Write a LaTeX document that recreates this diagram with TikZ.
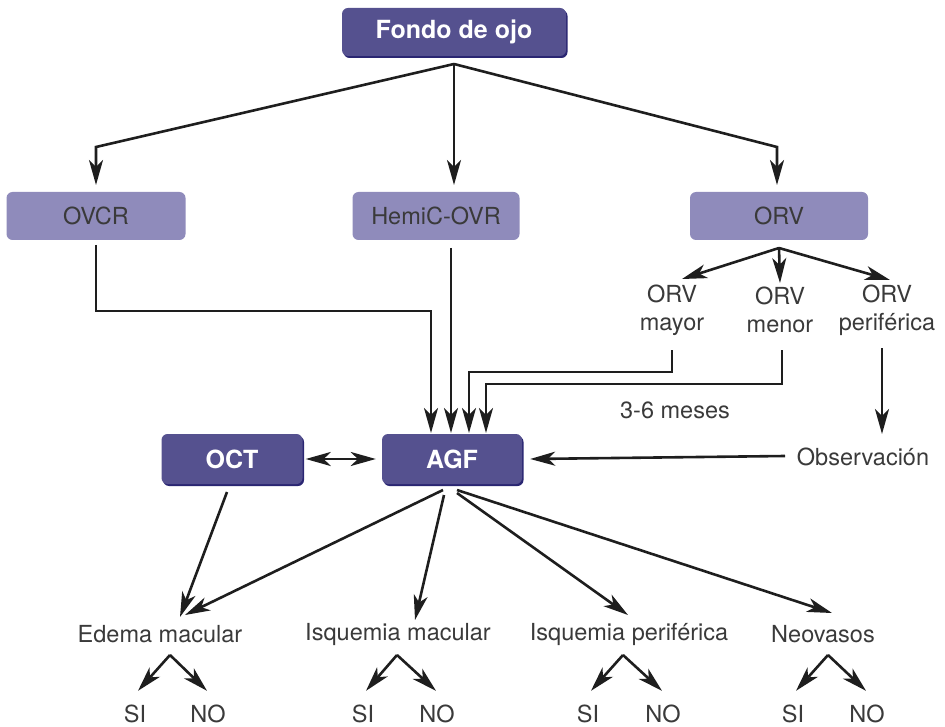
\documentclass[tikz,border=0pt]{standalone}
\usepackage{fontspec}
\setmainfont{TeX Gyre Heros}
\usetikzlibrary{arrows.meta,shadows}
\definecolor{boxdark}{HTML}{55518F}
\definecolor{boxlight}{HTML}{8F8BBB}
\definecolor{boxshade}{HTML}{2A2672}
\definecolor{inkgray}{HTML}{3A3A3A}
\definecolor{linegray}{HTML}{1E1E1E}
\tikzset{tip/.tip={Stealth[length=25pt, width=14pt, inset=7pt]}}
\begin{document}
\begin{tikzpicture}
[ x=1pt, y=-1pt
, point/.style={coordinate}
, darkbox/.style={rectangle, rounded corners=6pt, fill=boxdark, text=white, minimum height=48pt, font=\fontsize{25}{28}\selectfont\bfseries, drop shadow={shadow xshift=1.5pt, shadow yshift=-2pt, fill=boxshade, opacity=1}}
, lightbox/.style={rectangle, rounded corners=6pt, fill=boxlight, text=inkgray, minimum height=48pt, font=\fontsize{23.5}{26}\selectfont}
, caption/.style={inner sep=0pt, align=center, text=inkgray, font=\fontsize{23.5}{28}\selectfont}
, link/.style={-tip, draw=linegray, line width=2.6pt}
, twoway/.style={tip-tip, draw=linegray, line width=2.6pt}
]
\useasboundingbox (0,0) rectangle (945,727);
% Boxes:
\node (fondo) [darkbox, minimum width=224pt] at (454,32) {Fondo de ojo};
\node (ovcr) [lightbox, minimum width=179pt] at (96,216) {OVCR};
\node (hemic) [lightbox, minimum width=167pt] at (436,216) {HemiC-OVR};
\node (orv) [lightbox, minimum width=178pt] at (779,216) {ORV};
\node (oct) [darkbox, minimum width=141pt, minimum height=50pt] at (232,459) {OCT};
\node (agf) [darkbox, minimum width=140pt, minimum height=50pt] at (452,459) {AGF};
% ORV types:
\node (mayor) [caption] at (672,310) {ORV\\mayor};
\node (menor) [caption] at (780,310) {ORV\\menor};
\node (perif) [caption] at (887,310) {ORV\\periférica};
\node (meses) [caption] at (675,410) {3-6 meses};
\node (obs) [caption] at (863,457) {Observación};
% Findings:
\node (edema) [caption] at (160,634) {Edema macular};
\node (isqmac) [caption] at (398,634) {Isquemia macular};
\node (isqper) [caption] at (629,634) {Isquemia periférica};
\node (neo) [caption] at (823,634) {Neovasos};
\node (si1) [caption] at (135,714) {SI};
\node (no1) [caption] at (208,714) {NO};
\node (si2) [caption] at (363,714) {SI};
\node (no2) [caption] at (437,714) {NO};
\node (si3) [caption] at (588,714) {SI};
\node (no3) [caption] at (663,714) {NO};
\node (si4) [caption] at (793,714) {SI};
\node (no4) [caption] at (867,714) {NO};
% Points:
\node (f0) [point] at (454,64) {};
\node (f1) [point] at (96,147) {};
\node (f2) [point] at (777,147) {};
\node (o0) [point] at (779,248) {};
\node (a1) [point] at (96,311) {};
\node (a2) [point] at (431,311) {};
\node (m1) [point] at (672,372) {};
\node (m2) [point] at (469,372) {};
\node (n1) [point] at (782,384) {};
\node (n2) [point] at (486,384) {};
\node (e0) [point] at (170,655) {};
\node (e1) [point] at (397,655) {};
\node (e2) [point] at (623,655) {};
\node (e3) [point] at (828,655) {};
% Top level:
\draw [link] (f0) -- (f1) -- (96,185);
\draw [link] (f0) -- (454,185);
\draw [link] (f0) -- (f2) -- (777,185);
\draw [link] (o0) -- (682,279);
\draw [link] (o0) -- (780,283);
\draw [link] (o0) -- (890,280);
% Into AGF:
\draw [link] (96,245) -- (a1) -- (a2) -- (431,433);
\draw [link] (451,248) -- (451,433);
\draw [link] (672,350) -- (m1) -- (m2) -- (469,433);
\draw [link] (782,350) -- (n1) -- (n2) -- (486,433);
\draw [link] (882,348) -- (882,434);
\draw [link] (785,456) -- ([xshift=8pt]agf.east);
\draw [twoway] ([xshift=3pt]oct.east) -- ([xshift=-6pt]agf.west);
% Out of AGF and OCT:
\draw [link] (227,492) -- (180,617);
\draw [link] (443,490) -- (185,615);
\draw [link] (444,495) -- (415,620);
\draw [link] (457,493) -- (628,615);
\draw [link] (457,490) -- (832,613);
% SI / NO:
\foreach \a/\s/\n in {e0/si1/no1, e1/si2/no2, e2/si3/no3, e3/si4/no4}
{ \draw [link] (\a) -- ([xshift=3pt, yshift=14pt]\s.north);
  \draw [link] (\a) -- ([xshift=-1pt, yshift=14pt]\n.north);
}
\end{tikzpicture}
\end{document}
